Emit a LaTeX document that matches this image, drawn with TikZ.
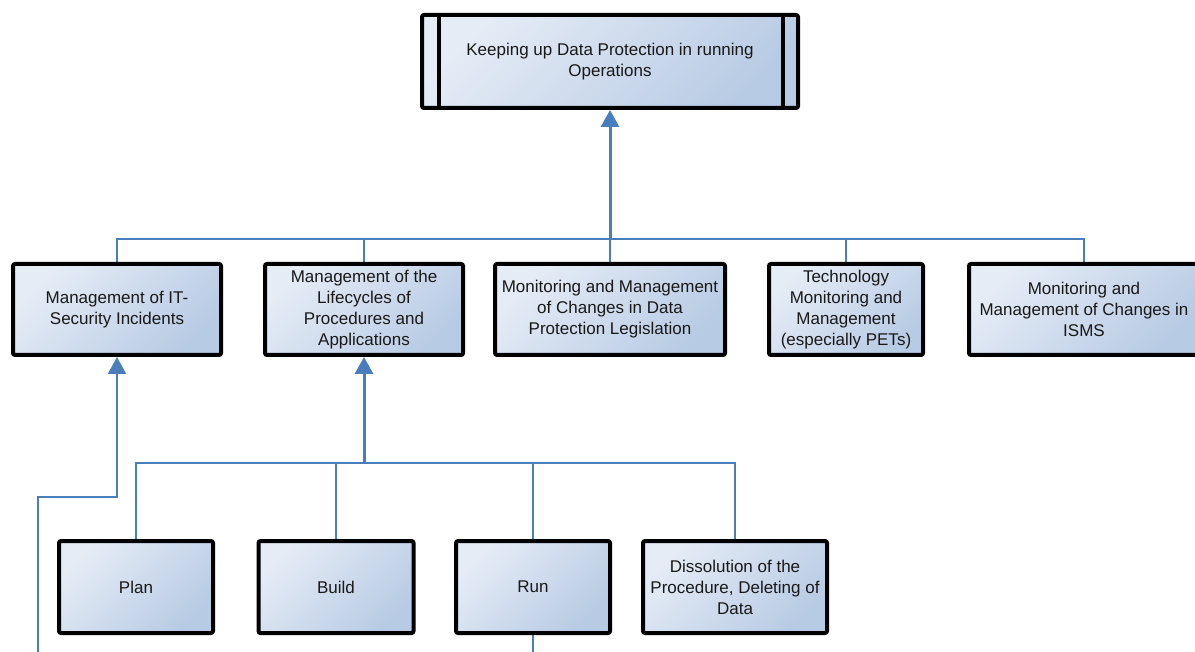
\documentclass[tikz,border=0pt]{standalone}
\usepackage{fontspec}
\setmainfont{Liberation Sans}
\usetikzlibrary{arrows.meta,backgrounds}
\definecolor{linkblue}{HTML}{4A7EBB}
\definecolor{boxlight}{HTML}{E5ECF6}
\definecolor{boxdark}{HTML}{B8CBE4}

\begin{document}
\begin{tikzpicture}[x=1pt, y=1pt,
    box/.style = {draw=black, line width=4pt, rounded corners=2pt,
        top color=boxlight, bottom color=boxdark, shading angle=45,
        align=center, inner sep=2pt, minimum height=91pt,
        font=\fontsize{17}{21}\selectfont, text=black!90},
    link/.style = {draw=linkblue, line width=2pt},
    tip/.style = {-{Triangle[width=18pt,length=17pt]}}]
    \useasboundingbox (0,0) rectangle (1195,-652);

    \node[box, minimum width=376pt, minimum height=93pt] (top) at (610,-61.5)
        {Keeping up Data Protection in running\\Operations};
    \draw[line width=4pt] ([xshift=19pt]top.north west) -- ([xshift=19pt]top.south west);
    \draw[line width=4pt] ([xshift=-17pt]top.north east) -- ([xshift=-17pt]top.south east);

    \node[box, minimum width=208pt] (incid) at (117,-309.5) {Management of IT-\\Security Incidents};
    \node[box, minimum width=198pt] (cycle) at (364,-309.5) {Management of the\\Lifecycles of\\Procedures and\\Applications};
    \node[box, minimum width=230pt] (legis) at (610,-309.5) {Monitoring and Management\\of Changes in Data\\Protection Legislation};
    \node[box, minimum width=154pt] (techn) at (846,-309.5) {Technology\\Monitoring and\\Management\\(especially PETs)};
    \node[box, minimum width=230pt] (isms) at (1084,-309.5) {Monitoring and\\Management of Changes in\\ISMS};

    \node[box, minimum width=154pt, minimum height=92pt] (plan) at (136,-587) {Plan};
    \node[box, minimum width=155pt, minimum height=92pt] (build) at (336,-587) {Build};
    \node[box, minimum width=154pt, minimum height=92pt] (run) at (533,-587) {Run};
    \node[box, minimum width=184pt, minimum height=92pt] (dissol) at (735,-587) {Dissolution of the\\Procedure, Deleting of\\Data};

    \begin{scope}[on background layer]
        \coordinate (bus1) at (610,-239);
        \draw[link] (incid.north) -- (incid.north |- bus1) -- (isms.north |- bus1) -- (isms.north);
        \draw[link] (cycle.north) -- (cycle.north |- bus1);
        \draw[link] (legis.north) -- (bus1);
        \draw[link] (techn.north) -- (techn.north |- bus1);
        \draw[link, line width=3pt, tip] (bus1) -- (top.south);

        \coordinate (bus2) at (364,-463);
        \draw[link, line width=3pt, tip] (bus2) -- (cycle.south);
        \draw[link] (plan.north) -- (plan.north |- bus2) -- (dissol.north |- bus2) -- (dissol.north);
        \draw[link] (build.north) -- (build.north |- bus2);
        \draw[link] (run.north) -- (run.north |- bus2);

        \coordinate (free1) at (38,-660);
        \coordinate (elbow) at (38,-497);
        \draw[link, tip] (free1) -- (elbow) -| (incid.south);
        \coordinate (free2) at (533,-660);
        \draw[link] (run.south) -- (free2);
    \end{scope}
\end{tikzpicture}
\end{document}
